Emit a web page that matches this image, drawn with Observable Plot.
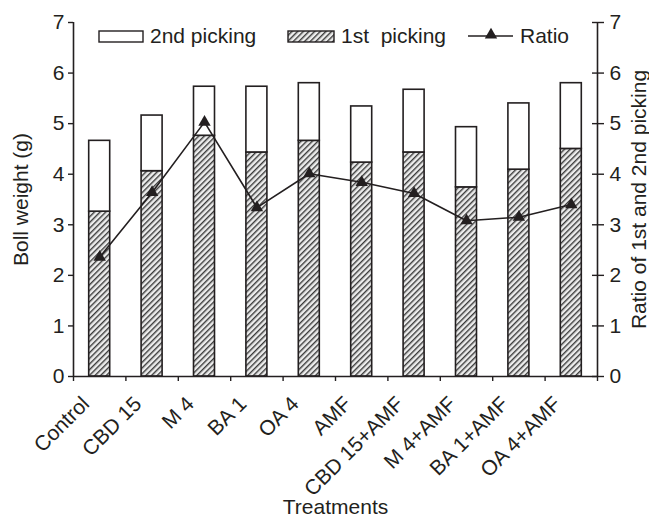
<!DOCTYPE html>
<html>
<head>
<meta charset="utf-8">
<script src="https://cdn.jsdelivr.net/npm/d3@7"></script>
<script src="https://cdn.jsdelivr.net/npm/@observablehq/plot@0.6"></script>
<style>
  html, body { margin: 0; padding: 0; background: #fff; }
  #chart { position: relative; width: 649px; height: 520px; }
  #chart svg { font-family: "Liberation Sans", Arial, sans-serif; }
  #chart svg text { font-size: 21px; }
  #chart svg .legend text { text-anchor: start; }
</style>
</head>
<body>
<div id="chart"></div>
<script>
const categories = ["Control", "CBD 15", "M 4", "BA 1", "OA 4", "AMF", "CBD 15+AMF", "M 4+AMF", "BA 1+AMF", "OA 4+AMF"];
const firstPicking = [3.26, 4.06, 4.76, 4.43, 4.66, 4.23, 4.43, 3.74, 4.09, 4.50];
const secondPicking = [1.40, 1.10, 0.97, 1.30, 1.14, 1.11, 1.24, 1.19, 1.31, 1.30];
const ratio = [2.36, 3.64, 5.03, 3.34, 4.01, 3.84, 3.62, 3.08, 3.15, 3.40];
const yTicks = [0, 1, 2, 3, 4, 5, 6, 7];

const data = categories.map((c, i) => ({
  i, category: c, first: firstPicking[i], second: secondPicking[i],
  total: firstPicking[i] + secondPicking[i], ratio: ratio[i]
}));

const inset = 15.7;
const font = 21;

const plot = Plot.plot({
  width: 649,
  height: 520,
  marginLeft: 73,
  marginRight: 52,
  marginTop: 22,
  marginBottom: 144,
  style: { fontFamily: '"Liberation Sans", Arial, sans-serif', fontSize: font + "px", color: "#231f20", background: "#fff" },
  x: { type: "linear", domain: [0, categories.length], axis: null },
  y: { domain: [0, 7], axis: null },
  marks: [
    Plot.rectY(data, { x1: d => d.i, x2: d => d.i + 1, y1: 0, y2: "first", insetLeft: inset, insetRight: inset, fill: "url(#hatch1st)", stroke: "#231f20", strokeWidth: 1.6 }),
    Plot.rectY(data, { x1: d => d.i, x2: d => d.i + 1, y1: "first", y2: "total", insetLeft: inset, insetRight: inset, fill: "#fff", stroke: "#231f20", strokeWidth: 1.6 }),
    Plot.ruleY([0], { stroke: "#231f20", strokeWidth: 1.6 }),
    Plot.ruleX([0, categories.length], { stroke: "#231f20", strokeWidth: 1.6 }),
    Plot.axisY({ anchor: "left", ticks: yTicks, tickSize: 5, tickPadding: 4, tickFormat: d3.format("d"), fontSize: font, label: "Boll weight (g)", labelAnchor: "center", labelArrow: "none", labelOffset: 60, strokeWidth: 1.4 }),
    Plot.axisY({ anchor: "right", ticks: yTicks, tickSize: 6, tickPadding: 6, tickFormat: d3.format("d"), fontSize: font, label: "Ratio of 1st and 2nd picking", labelAnchor: "center", labelArrow: "none", labelOffset: 48, strokeWidth: 1.4 }),
    Plot.axisY({ anchor: "right", ticks: yTicks, tickSize: 6, text: null, label: null, dx: -6, strokeWidth: 1.4 }),
    Plot.axisX({ anchor: "bottom", ticks: d3.range(0, categories.length + 1), tickSize: 5, text: null, label: null, strokeWidth: 1.4 }),
    Plot.axisX({ anchor: "bottom", ticks: categories.map((c, i) => i + 0.5), tickSize: 0, tickPadding: 26, tickRotate: -45, tickFormat: v => categories[Math.floor(v)], fontSize: font, label: null, dx: -14, dy: -2 }),
    Plot.axisX({ anchor: "bottom", ticks: [], tickSize: 0, label: "Treatments", labelAnchor: "center", labelArrow: "none", labelOffset: 137, fontSize: font }),
    Plot.line(data, { x: d => d.i + 0.5, y: "ratio", stroke: "#231f20", strokeWidth: 1.6 }),
    Plot.dot(data, { x: d => d.i + 0.5, y: "ratio", symbol: "triangle", r: 4.6, fill: "#231f20" })
  ]
});

const svg = d3.select(plot);
const defs = svg.insert("defs", ":first-child");
const pat = defs.append("pattern")
  .attr("id", "hatch1st")
  .attr("patternUnits", "userSpaceOnUse")
  .attr("width", 4).attr("height", 4)
  .attr("patternTransform", "rotate(45)");
pat.append("rect").attr("width", 4).attr("height", 4).attr("fill", "#ececec");
pat.append("rect").attr("x", 0).attr("y", 0).attr("width", 1.4).attr("height", 4).attr("fill", "#3a3a3a");

// Legend (inside the plot area, at the top)
const lg = svg.append("g").attr("class", "legend").attr("fill", "#231f20").attr("text-anchor", "start");
lg.append("rect").attr("x", 99).attr("y", 31).attr("width", 44).attr("height", 11).attr("fill", "#fff").attr("stroke", "#231f20").attr("stroke-width", 1.4);
lg.append("text").attr("x", 150).attr("y", 43).text("2nd picking");
lg.append("rect").attr("x", 288).attr("y", 31).attr("width", 46).attr("height", 11).attr("fill", "url(#hatch1st)").attr("stroke", "#231f20").attr("stroke-width", 1.4);
lg.append("text").attr("x", 341).attr("y", 43).attr("xml:space", "preserve").style("white-space", "pre").text("1st  picking");
lg.append("line").attr("x1", 468).attr("x2", 513).attr("y1", 36).attr("y2", 36).attr("stroke", "#231f20").attr("stroke-width", 1.6);
lg.append("path").attr("transform", "translate(491,35)").attr("d", d3.symbol(d3.symbolTriangle, 4.6 * 4.6 * Math.PI)()).attr("fill", "#231f20");
lg.append("text").attr("x", 520).attr("y", 43).text("Ratio");

document.getElementById("chart").appendChild(plot);
</script>
</body>
</html>
